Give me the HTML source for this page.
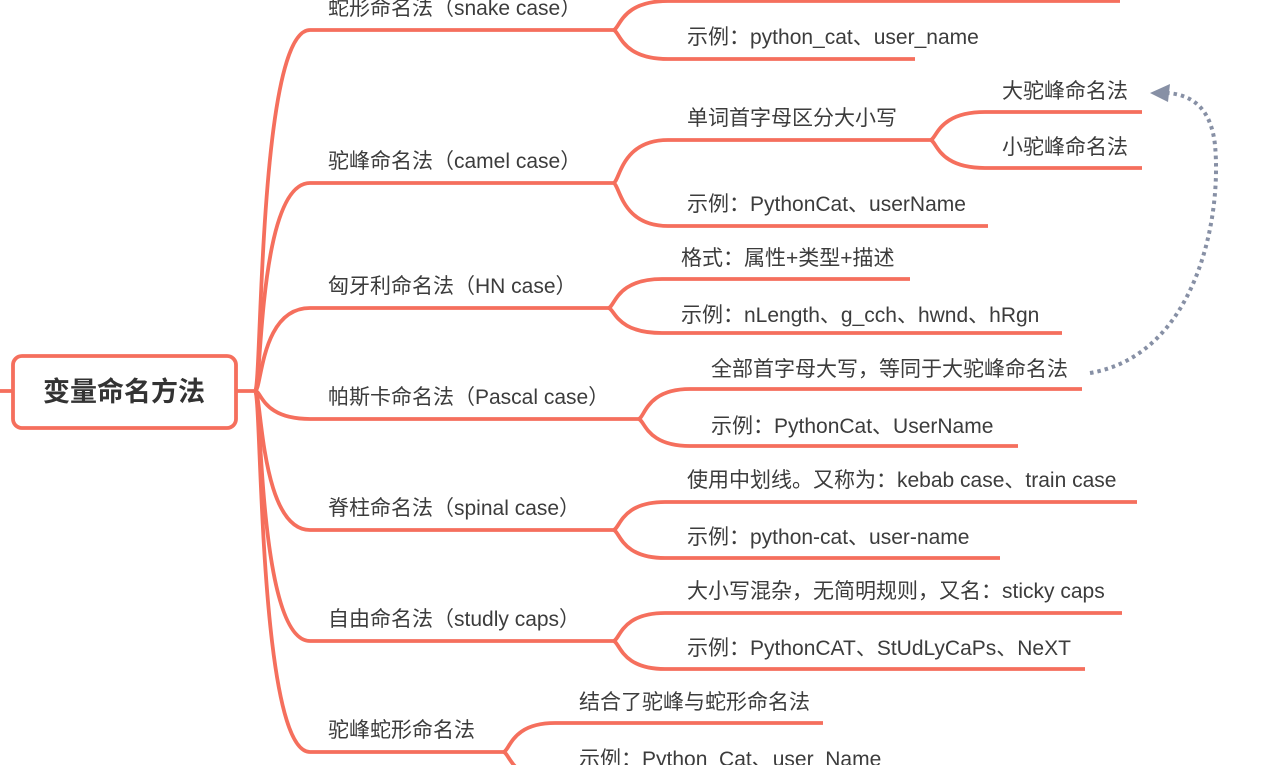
<!DOCTYPE html>
<html><head><meta charset="utf-8"><style>
html,body{margin:0;padding:0;background:#fff;}
svg{display:block;}
text{font-family:"Liberation Sans","Noto Sans CJK SC",sans-serif;font-size:21px;fill:#3c3c3c;}
</style></head><body>
<svg width="1263" height="765" viewBox="0 0 1263 765" xmlns="http://www.w3.org/2000/svg">
<g fill="none" stroke="#f56f5d" stroke-width="3.8" stroke-linecap="butt">
<path d="M0,391 H14"/>
<path d="M236,391 H255"/>
<path d="M255,391 C262,391 258,30 310,30 H615"/>
<path d="M255,391 C262,391 258,183 310,183 H615"/>
<path d="M255,391 C262,391 260,308 310,308 H610"/>
<path d="M255,391 C262,391 262,419 310,419 H640"/>
<path d="M255,391 C262,391 260,530 310,530 H615"/>
<path d="M255,391 C262,391 258,641 310,641 H615"/>
<path d="M255,391 C262,391 258,752 310,752 H505"/>
<path d="M613,30 C620,30 620,1 668,1 H1120"/>
<path d="M613,30 C620,30 620,59 668,59 H915"/>
<path d="M613,183 C620,183 620,140 668,140 H932"/>
<path d="M613,183 C620,183 620,226 668,226 H988"/>
<path d="M930,140 C937,140 937,112 985,112 H1142"/>
<path d="M930,140 C937,140 937,168 985,168 H1142"/>
<path d="M608,308 C615,308 615,279 662,279 H910"/>
<path d="M608,308 C615,308 615,333 662,333 H1062"/>
<path d="M638,419 C645,419 645,389 690,389 H1082"/>
<path d="M638,419 C645,419 645,446 690,446 H1018"/>
<path d="M613,530 C620,530 620,502 665,502 H1137"/>
<path d="M613,530 C620,530 620,558 665,558 H1000"/>
<path d="M613,641 C620,641 620,613 665,613 H1122"/>
<path d="M613,641 C620,641 620,669 665,669 H1085"/>
<path d="M503,752 C510,752 510,723 555,723 H823"/>
<path d="M503,752 C510,752 510,780 555,780 H900"/>
<rect x="13" y="356" width="223" height="72" rx="9" fill="#fff"/>
</g>
<text x="124" y="401" text-anchor="middle" style="font-size:27px;font-weight:bold;fill:#333">变量命名方法</text>
<text x="328" y="15">蛇形命名法（snake case）</text>
<text x="328" y="168">驼峰命名法（camel case）</text>
<text x="328" y="293">匈牙利命名法（HN case）</text>
<text x="328" y="404">帕斯卡命名法（Pascal case）</text>
<text x="328" y="515">脊柱命名法（spinal case）</text>
<text x="328" y="626">自由命名法（studly caps）</text>
<text x="328" y="737">驼峰蛇形命名法</text>
<text x="687" y="44">示例：python_cat、user_name</text>
<text x="687" y="125">单词首字母区分大小写</text>
<text x="687" y="211">示例：PythonCat、userName</text>
<text x="1002" y="98">大驼峰命名法</text>
<text x="1002" y="154">小驼峰命名法</text>
<text x="681" y="265">格式：属性+类型+描述</text>
<text x="681" y="322">示例：nLength、g_cch、hwnd、hRgn</text>
<text x="711" y="376">全部首字母大写，等同于大驼峰命名法</text>
<text x="711" y="433">示例：PythonCat、UserName</text>
<text x="687" y="487">使用中划线。又称为：kebab case、train case</text>
<text x="687" y="544">示例：python-cat、user-name</text>
<text x="687" y="598">大小写混杂，无简明规则，又名：sticky caps</text>
<text x="687" y="655">示例：PythonCAT、StUdLyCaPs、NeXT</text>
<text x="579" y="709">结合了驼峰与蛇形命名法</text>
<text x="579" y="766">示例：Python_Cat、user_Name</text>
<path d="M1090,373 C1195,355 1222,220 1215,145 C1211,108 1192,95 1168,93" fill="none" stroke="#8790a5" stroke-width="4" stroke-dasharray="3.5 4"/>
<polygon points="1150,93 1170,84 1168,102" fill="#8790a5"/>
</svg>
</body></html>
